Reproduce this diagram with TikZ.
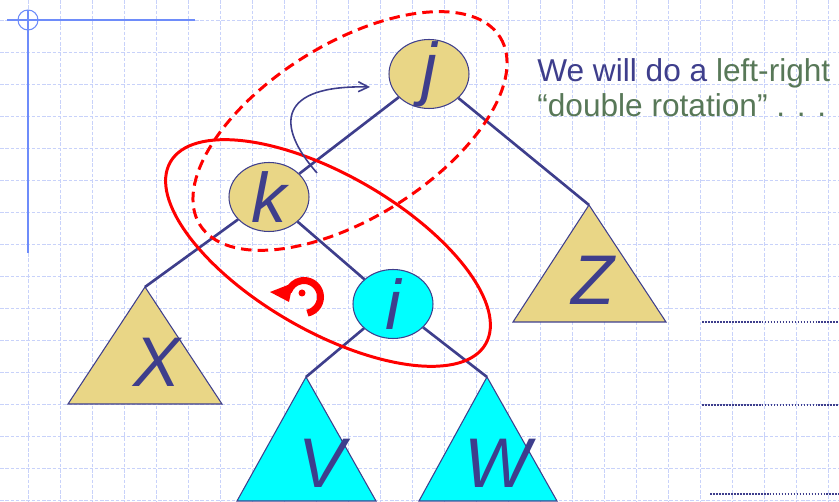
\documentclass[tikz,border=0pt]{standalone}
\usepackage{fontspec}
\setmainfont{Liberation Sans}
\usetikzlibrary{shapes.geometric,arrows.meta,calc}
\definecolor{inkblue}{RGB}{62,62,140}
\definecolor{nodetan}{RGB}{233,214,134}
\definecolor{nodecyan}{RGB}{0,255,255}
\definecolor{gridblue}{RGB}{200,210,250}
\definecolor{crossblue}{RGB}{110,140,250}
\definecolor{leftgreen}{RGB}{88,120,88}
\begin{document}
\begin{tikzpicture}[x=0.02cm,y=-0.02cm,
	treelabel/.style={inner sep=0pt,text=inkblue,font=\fontsize{40}{40}\selectfont\itshape},
	keynode/.style={ellipse,draw=inkblue,line width=0.6pt,inner sep=0pt,minimum width=1.6cm,minimum height=1.38cm,label={[treelabel]center:#1}},
	branch/.style={draw=inkblue,line width=1.5pt},
	subtree/.style={draw=inkblue,line width=0.6pt},
	gridline/.style={draw=gridblue,line width=0.5pt,dash pattern=on 2pt off 1pt},
	placeline/.style={draw=inkblue,line width=1.1pt,dash pattern=on 1pt off 0.7pt},
	ringsolid/.style={draw=red,line width=1.7pt},
	ringdashed/.style={draw=red,line width=1.7pt,dash pattern=on 6pt off 3.5pt},
	saytext/.style={anchor=base west,inner sep=0pt,font=\fontsize{18}{18}\selectfont}]
	\useasboundingbox (0,0) rectangle (839,502);
	\fill[white] (0,0) rectangle (839,502);
	\foreach \gx in {-4,28,...,836} \draw[gridline] (\gx,0) -- (\gx,502);
	\foreach \gy in {20,52,...,500} \draw[gridline] (0,\gy) -- (839,\gy);
	\draw[crossblue,line width=0.9pt] (7,20) -- (195,20);
	\draw[crossblue,line width=1.5pt] (28,10) -- (28,253);
	\draw[crossblue,line width=0.6pt] (28,20) circle[radius=0.2cm];

	\node[keynode={j},fill=nodetan] (j) at (429,74) {};
	\node[keynode={k},fill=nodetan] (k) at (269,197) {};
	\node[keynode={i},fill=nodecyan] (i) at (393,304) {};

	\draw[subtree,fill=nodetan] (145,287) coordinate (Xtop) -- (222,404) -- (68,404) -- cycle;
	\draw[subtree,fill=nodetan] (589,205) coordinate (Ztop) -- (666,322) -- (513,322) -- cycle;
	\draw[subtree,fill=nodecyan] (306,377) coordinate (Vtop) -- (376,501) -- (237,501) -- cycle;
	\draw[subtree,fill=nodecyan] (487,377) coordinate (Wtop) -- (557,501) -- (419,501) -- cycle;
	\node[treelabel] (X) at (157,362) {X};
	\node[treelabel] (Z) at (593,280) {Z};
	\node[treelabel] (V) at (322,463) {V};
	\node[treelabel] (W) at (498,463) {W};

	\draw[branch] (j) -- (k);
	\draw[branch] (j) -- (Ztop);
	\draw[branch] (k) -- (Xtop);
	\draw[branch] (k) -- (i);
	\draw[branch] (i) -- (Vtop);
	\draw[branch] (i) -- (Wtop);

	\draw[placeline] (702,322) -- (839,322);
	\draw[placeline] (702,405) -- (839,405);
	\draw[placeline] (710,494) -- (839,494);

	\node[saytext,text=inkblue] (say1) at (537,82) {We will do a \textcolor{leftgreen}{left-right}};
	\node[saytext,text=leftgreen] (say2) at (537,117) {“double rotation” . . .};

	\draw[ringsolid,rotate around={-30:(328,253)}] (328,253) ellipse[x radius=182,y radius=78];
	\draw[ringdashed,rotate around={32:(350,131)}] (350,131) ellipse[x radius=177,y radius=87];

	\coordinate (spin) at (304,297);
	\draw[red,line width=4pt] ($(spin)+(-78:0.33cm)$) arc[start angle=-78,end angle=160,radius=0.33cm];
	\fill[red] (293,283) -- (270,292) -- (289,302) -- cycle;
	\fill[red] (302,293) circle[radius=0.07cm];

	\coordinate (turnfrom) at (317,173);
	\coordinate (turnto) at (370,87);
	\draw[inkblue,line width=0.9pt,-{Straight Barb[length=2mm,width=2mm]}] (turnfrom) .. controls (275,125) and (278,85) .. (turnto);
\end{tikzpicture}
\end{document}
